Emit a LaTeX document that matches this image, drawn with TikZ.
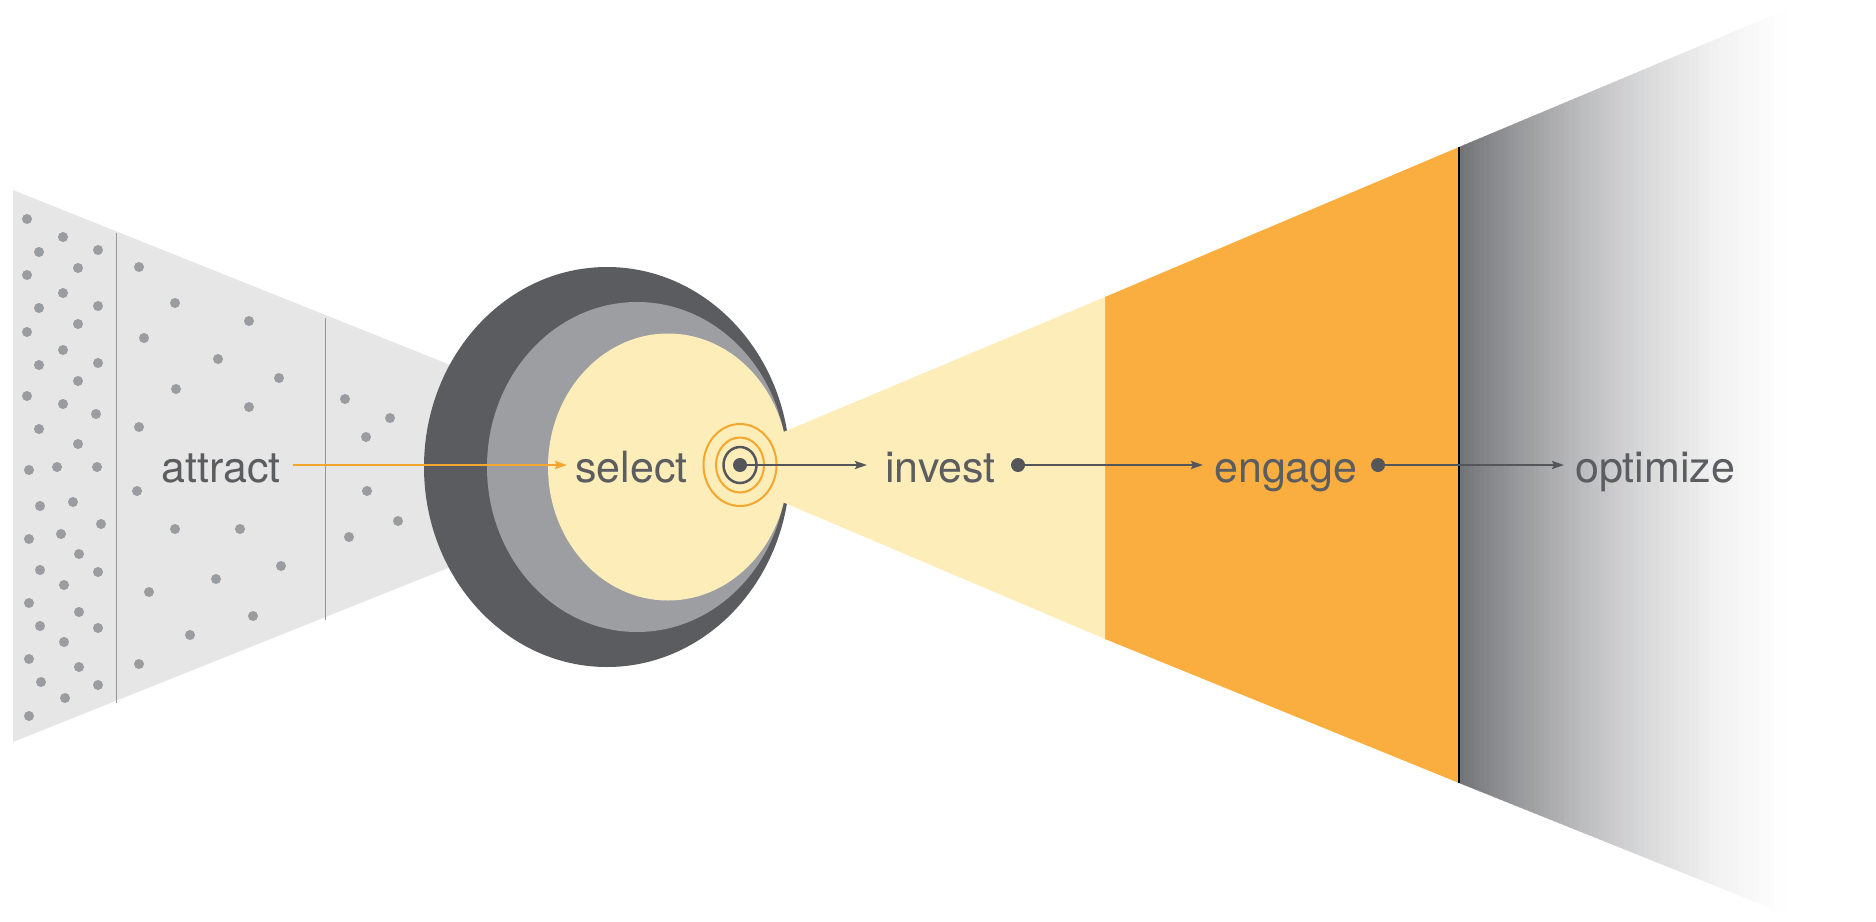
\documentclass[tikz,border=0pt]{standalone}
\usepackage{fontspec}
\setmainfont{TeX Gyre Heros}
\usetikzlibrary{arrows.meta}
\definecolor{lightpanel}{RGB}{230,230,230}
\definecolor{dotgray}{RGB}{155,156,159}
\definecolor{divgray}{RGB}{150,150,152}
\definecolor{darkring}{RGB}{91,92,95}
\definecolor{midring}{RGB}{157,158,161}
\definecolor{paleyellow}{RGB}{253,237,185}
\definecolor{orangefill}{RGB}{250,174,63}
\definecolor{orangeline}{RGB}{245,166,45}
\definecolor{txtgray}{RGB}{92,93,96}
\definecolor{lineGray}{RGB}{85,86,90}
\definecolor{gA}{RGB}{115,116,120}
\begin{document}
\begin{tikzpicture}[x=1pt,y=-1pt,
  lbl/.style={anchor=base west, inner sep=0pt, text=txtgray, font=\fontsize{43}{50}\selectfont},
  flowdot/.style={circle, fill=lineGray, inner sep=0pt, minimum size=14pt},
  oarrow/.style={draw=orangeline, line width=2.2pt, -{Stealth[length=12pt,width=8pt,inset=2pt]}},
  darrow/.style={draw=lineGray, line width=2.2pt, -{Stealth[length=12pt,width=8pt,inset=2pt]}},
  divider/.style={draw=divgray, line width=1pt}]
\useasboundingbox (0,0) rectangle (1876,921);
\clip (0,0) rectangle (1876,921);

% left dotted funnel
\fill[lightpanel] (13,190) -- (703,466) -- (13,742) -- cycle;
\draw[divider] (116,233) -- (116,703);
\draw[divider] (325,318) -- (325,620);
\foreach \p in {(27,219),(63,237),(39,252),(98,250),(78,268),(27,275),(63,293),(39,308),(98,306),(78,324),(27,332),(63,350),(39,365),(98,363),(78,381),(27,396),(63,404),(39,429),(96,414),(78,444),(29,470),(57,467),(97,467),(40,506),(73,502),(101,524),(29,539),(61,534),(79,554),(40,570),(98,572),(64,585),(29,603),(79,612),(40,626),(98,628),(64,642),(29,659),(79,667),(41,682),(98,685),(65,698),(29,716),
  (139,267),(175,303),(249,321),(144,338),(218,359),(279,378),(176,389),(249,407),(139,427),(137,491),(175,529),(240,529),(281,566),(216,579),(149,592),(253,616),(190,635),(139,664),
  (345,399),(390,418),(366,437),(367,491),(398,521),(349,537)}
  \fill[dotgray] \p circle (5pt);

% right funnel: fading gray part, built from thin strips
\begin{scope}
  \clip (1459,147) -- (1900,-38) -- (1900,960) -- (1459,783) -- cycle;
  \foreach \i in {0,...,69} {
    \pgfmathsetmacro\xx{1459+5*\i}
    \pgfmathtruncatemacro\pc{100*(1-\i/70)^1.7}
    \fill[gA!\pc!white] (\xx,-40) rectangle ({\xx+5.8},970);
  }
\end{scope}
\fill[orangefill] (1105,297) -- (1459,147) -- (1459,783) -- (1105,639) -- cycle;

% circles
\fill[darkring] (607,467) ellipse [x radius=183pt, y radius=200pt];
\fill[midring] (637,467) ellipse [x radius=150pt, y radius=165pt];
\fill[paleyellow] (668,467) ellipse [x radius=120pt, y radius=133.5pt];
\fill[paleyellow] (700,467) -- (1105,297) -- (1105,639) -- cycle;

\draw[black, line width=2.2pt] (1459,147) -- (1459,783);

% target rings
\draw[orangeline, line width=2pt] (740,465) ellipse [x radius=36.5pt, y radius=41pt];
\draw[orangeline, line width=2pt] (740,465) ellipse [x radius=24pt, y radius=27.5pt];
\draw[lineGray, line width=2.5pt] (740,465) ellipse [x radius=16.5pt, y radius=18pt];
\node[flowdot] (tgt) at (740,465) {};

% labels
\node[lbl] (attract) at (161,482) {attract};
\node[lbl] (select) at (575,482) {select};
\node[lbl] (invest) at (885,482) {invest};
\node[lbl] (engage) at (1214,482) {engage};
\node[lbl] (optimize) at (1575,482) {optimize};

\node[flowdot] (d1) at (1018,465) {};
\node[flowdot] (d2) at (1378,465) {};

% connectors
\draw[oarrow] ([xshift=12pt]attract.east |- tgt) -- ([xshift=-8pt]select.west |- tgt);
\draw[darrow] (tgt.center) -- ([xshift=-18pt]invest.west |- tgt);
\draw[darrow] (d1.center) -- ([xshift=-11pt]engage.west |- tgt);
\draw[darrow] (d2.center) -- ([xshift=-11pt]optimize.west |- tgt);
\end{tikzpicture}
\end{document}
